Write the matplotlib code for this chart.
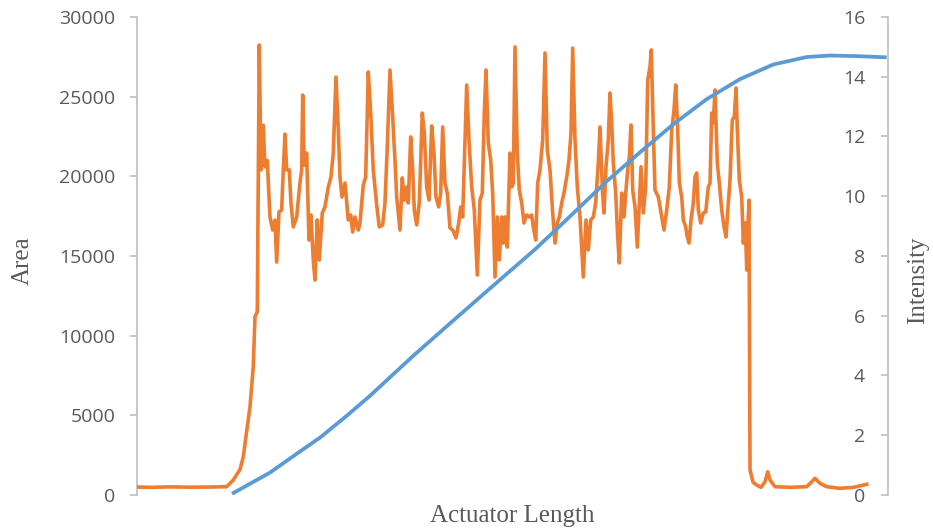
import matplotlib
matplotlib.use('Agg')
import matplotlib.pyplot as plt
import numpy as np

# Area trace (orange): (actuator length, area)
area_points = [
    (0, 500), (13, 480), (33, 510), (53, 490), (73, 500), (89.7, 520),
    (96.3, 940), (103, 1600), (106.3, 2400), (113, 5540), (116.3, 8050),
    (118, 11190), (120.3, 11500), (122.3, 28240), (124, 20400), (126.3, 23200),
    (128, 20600), (130.3, 21000), (133, 17450), (135.7, 16630), (138, 17260),
    (139.7, 14620), (142, 17760), (144.7, 17890), (146.3, 20400), (148, 22650),
    (149.7, 20400), (152.3, 20400), (154, 18330), (156.3, 16820), (159.7, 17450),
    (163, 19580), (164.7, 20400), (165.7, 25100), (167.3, 20700), (169.7, 21460),
    (172, 16000), (174, 17570), (176.3, 14750), (178, 13490), (180.3, 17260),
    (182.3, 14750), (185.3, 17700), (188, 18080), (191.3, 19330), (194, 19960),
    (196.3, 21460), (199, 26230), (201.3, 22900), (203, 19960), (205, 18700),
    (208, 19580), (209.7, 18390), (211.3, 17260), (213.7, 17570), (215.7, 16500),
    (218, 17450), (221.3, 16630), (223, 17070), (226.3, 19460), (228.7, 19960),
    (231.3, 26550), (233.7, 24000), (236.3, 20400), (239.7, 18200), (242.3, 16820),
    (245.7, 16950), (248, 18330), (250.3, 21840), (253, 26670), (255.3, 24160),
    (258, 21020), (259.7, 18700), (263, 16630), (265.3, 19900), (267.3, 18510),
    (269.7, 19330), (271.3, 18330), (273.7, 22470), (275.7, 20400), (277.3, 17890),
    (279.7, 16950), (282.3, 18330), (285.3, 23970), (287.3, 22720), (289.7, 19330),
    (292, 18510), (294.7, 23160), (297, 21460), (299, 18700), (301.7, 18080),
    (303.7, 18950), (305.7, 23100), (308, 19580), (310.3, 18950), (313, 16760),
    (315.7, 16630), (319, 16130), (321.7, 17070), (323.7, 18080), (325.7, 17450),
    (327.3, 20840), (329.7, 25730), (332, 22280), (334.7, 19330), (337.3, 17890),
    (340.3, 13810), (343, 18510), (345.3, 18950), (347.3, 23970), (349, 26670),
    (351.3, 22090), (353.7, 21020), (355.7, 18950), (358, 13680), (360.3, 17450),
    (362.3, 14750), (364.7, 17450), (366.3, 15810), (368, 17450), (370.3, 15560),
    (373, 21460), (374.7, 19330), (376.3, 19580), (378, 28120), (380.3, 21460),
    (382.3, 19140), (384.7, 18330), (387, 17070), (389.7, 17570), (392.3, 17450),
    (394.7, 17570), (396.3, 16820), (398.7, 16000), (400.7, 19580), (403, 20400),
    (405.7, 22280), (408, 27740), (410.3, 21650), (413, 20400), (415.7, 17700),
    (418, 15810), (420.3, 17070), (422.3, 17450), (424.7, 18330), (427, 18950),
    (429.7, 19960), (432, 21020), (434, 22720), (435.7, 28050), (438, 22280),
    (440.3, 19330), (443, 17450), (446.3, 13680), (449, 17260), (451.3, 15380),
    (453.7, 17260), (456.3, 17450), (458.7, 18330), (461.3, 20840), (463, 23100),
    (465.5, 19000), (467, 17700), (469, 20600), (471.3, 22280), (473, 25230),
    (474.7, 23350), (476.3, 20840), (478.7, 18950), (480.7, 16190), (482.3, 14560),
    (484.7, 18950), (487, 17450), (489, 19140), (490.7, 20400), (492.3, 21210),
    (494, 23220), (495.7, 19140), (498, 18080), (500.3, 15560), (502, 17890),
    (504, 20600), (506.3, 17700), (508.7, 19330), (510.7, 26040), (513, 26860),
    (514.3, 27930), (516.3, 22910), (518, 19140), (521.3, 18700), (524, 17700),
    (527, 16630), (529.7, 17890), (532.3, 19330), (534.7, 22910), (537, 24160),
    (538.7, 25730), (540.7, 22910), (542.3, 19580), (544.7, 18700), (546.3, 17260),
    (548.7, 16820), (550.3, 16190), (552, 15810), (554, 17260), (556.3, 18330),
    (558, 19960), (559.7, 20210), (561.3, 17890), (563.7, 17070), (566.3, 17700),
    (568.7, 17760), (571.3, 19330), (573, 19580), (574.7, 23970), (576.3, 23350),
    (578, 25420), (580.3, 20840), (582.3, 19580), (584.7, 17890), (587, 16820),
    (589, 16190), (591.3, 18330), (593, 19770), (595.3, 23540), (597.3, 23720),
    (599, 25540), (600.3, 22910), (602.3, 19770), (604.7, 18700), (606.3, 15810),
    (608.3, 17070), (609.7, 14120), (611, 17000), (612, 18510), (613, 1570),
    (616, 800), (619.7, 630), (624, 480), (628, 830), (630.7, 1460), (633, 940),
    (638, 520), (653, 480), (669.7, 520), (674.7, 830), (678, 1050), (683, 730),
    (689.7, 520), (703, 420), (716.3, 480), (729.7, 670),
]

# Intensity trace (blue)
intensity_len = [95, 133, 158, 183, 209.7, 233, 276.3, 316.3, 356.3, 398, 436.3,
                 469.7, 503, 536.3, 569.7, 603, 636.3, 669.7, 693, 719.7, 749.7]
intensity_vals = [0.04, 0.75, 1.34, 1.92, 2.65, 3.32, 4.66, 5.84, 7.01, 8.22, 9.43,
                  10.50, 11.47, 12.41, 13.25, 13.92, 14.41, 14.66, 14.71, 14.69, 14.65]

area_ticks = [0, 5000, 10000, 15000, 20000, 25000, 30000]
intensity_ticks = [0, 2, 4, 6, 8, 10, 12, 14, 16]

area_len, area_vals = np.array(area_points).T

grey = '#595959'
spine_grey = '#bfbfbf'
tick_font = 'Open Sans'
label_font = 'Liberation Serif'

fig = plt.figure(figsize=(9.33, 5.31), dpi=100)
ax = fig.add_axes([0.1468, 0.0678, 0.805, 0.9002])
ax2 = ax.twinx()

ax.plot(area_len, area_vals, color='#ED7D31', lw=2.6, solid_joinstyle='round', zorder=3)
ax2.plot(intensity_len, intensity_vals, color='#5B9BD5', lw=2.7,
         solid_joinstyle='round', solid_capstyle='butt')

ax.set_xlim(0, 751)
ax.set_ylim(0, 30000)
ax2.set_ylim(0, 16)
ax.set_yticks(area_ticks)
ax2.set_yticks(intensity_ticks)
ax.set_xticks([])

for a in (ax, ax2):
    for side in ['top', 'bottom']:
        a.spines[side].set_visible(False)
    a.set_facecolor('none')
ax.spines['right'].set_visible(False)
ax2.spines['left'].set_visible(False)
ax.spines['left'].set_color(spine_grey)
ax.spines['left'].set_linewidth(1.2)
ax2.spines['right'].set_color(spine_grey)
ax2.spines['right'].set_linewidth(1.2)

ax.tick_params(axis='y', direction='out', length=5, width=1.2, color=spine_grey,
               labelcolor=grey, labelsize=14, pad=10.5)
ax2.tick_params(axis='y', direction='in', length=5, width=1.2, color=spine_grey,
                labelcolor=grey, labelsize=14, pad=-16.5)
for t in ax.get_yticklabels() + ax2.get_yticklabels():
    t.set_fontfamily(tick_font)
for t in ax2.get_yticklabels():
    t.set_horizontalalignment('right')

ax.set_ylabel('Area', fontsize=18, family=label_font, color=grey)
ax.yaxis.set_label_coords(-0.137, 0.49)
ax2.set_ylabel('Intensity', fontsize=18, family=label_font, color=grey)
ax2.yaxis.set_label_coords(1.026, 0.45)
ax.set_xlabel('Actuator Length', fontsize=18, family=label_font, color=grey)
ax.xaxis.set_label_coords(0.5, -0.02)

plt.savefig('out.png', dpi=100)
plt.close()
